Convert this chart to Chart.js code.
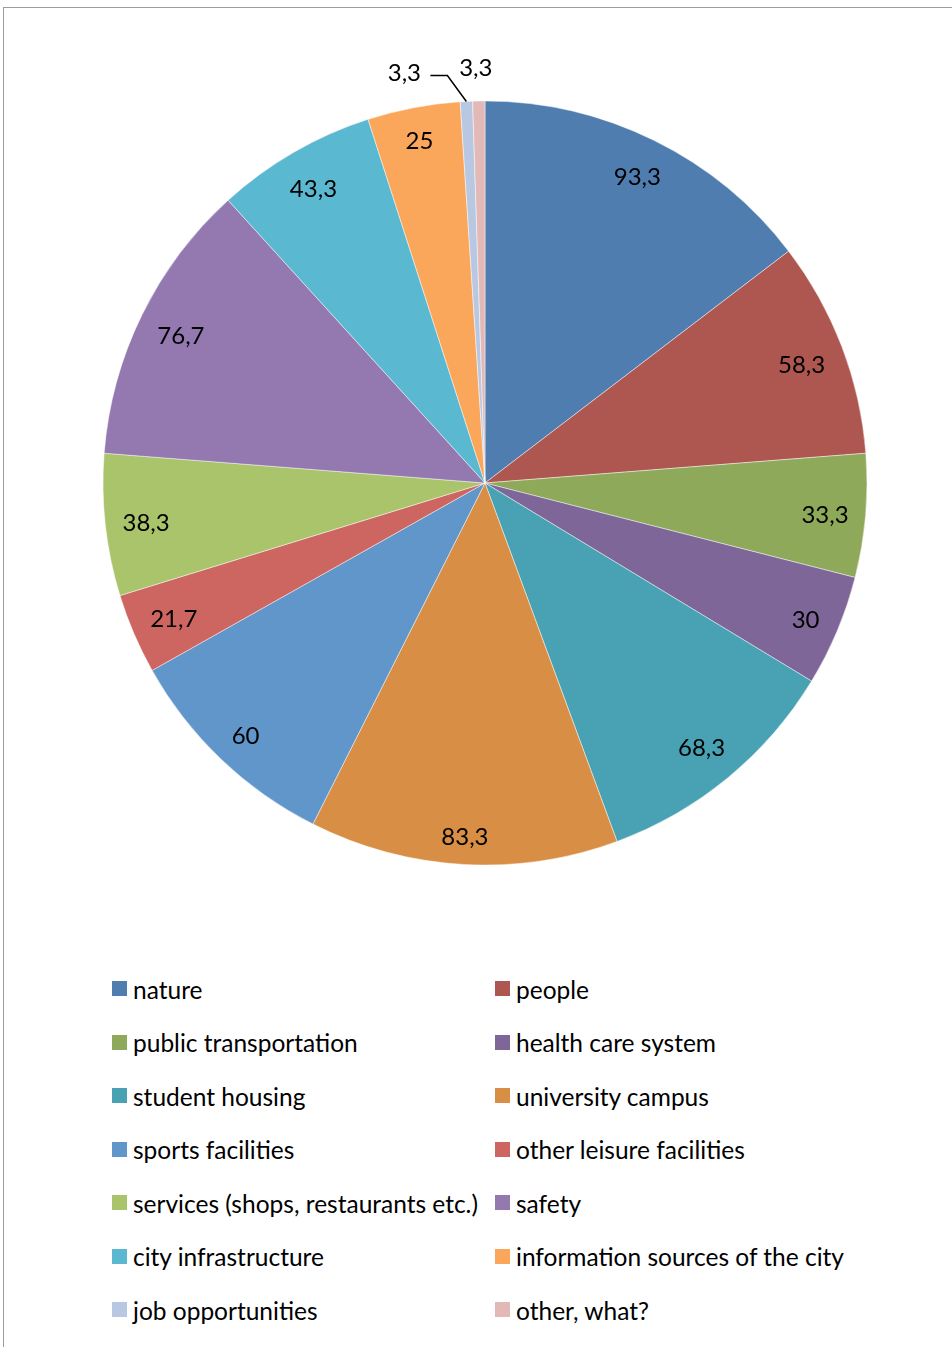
<!DOCTYPE html>
<html>
<head>
<meta charset="utf-8">
<script src="https://cdn.jsdelivr.net/npm/chart.js@4.4.1/dist/chart.umd.min.js"></script>
<style>
  html, body { margin: 0; padding: 0; background: #fff; }
  body { width: 952px; height: 1347px; position: relative; overflow: hidden; font-family: Lato, "DejaVu Sans", sans-serif; }
  .frame { position: absolute; left: 3px; top: 7px; width: 1000px; height: 1400px; border: 1px solid #9c9c9c; box-sizing: border-box; }
  .chart-box { position: absolute; left: 0; top: 0; width: 952px; height: 900px; }
  #legend { position: absolute; left: 112px; top: 974px; width: 800px; }
  .item { position: absolute; display: flex; align-items: center; height: 30px; font-size: 24.5px; color: #000; white-space: nowrap; }
  .item .sw { width: 15px; height: 15px; margin-right: 6px; margin-top: -1px; }
</style>
</head>
<body>
<div class="frame"></div>
<div class="chart-box"><canvas id="pieChart" width="952" height="900"></canvas></div>
<div id="legend"></div>
<script>
const categories = [
  'nature', 'people', 'public transportation', 'health care system',
  'student housing', 'university campus', 'sports facilities', 'other leisure facilities',
  'services (shops, restaurants etc.)', 'safety', 'city infrastructure',
  'information sources of the city', 'job opportunities', 'other, what?'
];
const values = [93.3, 58.3, 33.3, 30, 68.3, 83.3, 60, 21.7, 38.3, 76.7, 43.3, 25, 3.3, 3.3];
const sliceColors = [
  '#4f7db0', '#ae5650', '#8fa95a', '#7e6699', '#49a1b4', '#d98e46', '#6096ca',
  '#cd6661', '#aac46b', '#9379b0', '#5bb8d1', '#fba75b', '#b9c8e2', '#e3b9b7'
];

// value labels drawn with a comma decimal separator
const fmt = v => String(v).replace('.', ',');

// labels sit "inside end": the text box is pushed in from the rim by a fixed gap
const sliceLabels = {
  id: 'sliceLabels',
  afterDatasetsDraw(chart) {
    const ctx = chart.ctx;
    const arcs = chart.getDatasetMeta(0).data;
    const gap = 14, boxH = 29;
    ctx.save();
    ctx.font = '24px Lato, "DejaVu Sans", sans-serif';
    ctx.fillStyle = '#000';
    ctx.textAlign = 'center';
    ctx.textBaseline = 'alphabetic';
    const put = (t, cx, cy) => ctx.fillText(t, cx, cy + 10.5);
    arcs.forEach((arc, i) => {
      const { x, y, startAngle, endAngle, outerRadius } = arc.getProps(['x', 'y', 'startAngle', 'endAngle', 'outerRadius'], true);
      const mid = (startAngle + endAngle) / 2;
      const cos = Math.cos(mid), sin = Math.sin(mid);
      const text = fmt(values[i]);
      if (values[i] > 5) {
        const w = ctx.measureText(text).width + 4;
        const ext = (w / 2) * Math.abs(cos) + (boxH / 2) * Math.abs(sin);
        const r = outerRadius - gap - ext;
        put(text, x + cos * r, y + sin * r);
        return;
      }
      // thin slices: labels sit above the rim
      const ex = x + cos * outerRadius;
      const ey = y + sin * outerRadius;
      if (i === 12) {
        const bx = ex - 19, by = ey - 26;
        ctx.strokeStyle = '#000';
        ctx.lineWidth = 1.5;
        ctx.beginPath();
        ctx.moveTo(ex, ey);
        ctx.lineTo(bx, by);
        ctx.lineTo(bx - 17, by);
        ctx.stroke();
        put(text, bx - 43, by - 5);
      } else {
        put(text, ex - 3, ey - 36);
      }
    });
    ctx.restore();
  }
};

new Chart(document.getElementById('pieChart'), {
  type: 'pie',
  data: {
    labels: categories,
    datasets: [{
      data: values,
      backgroundColor: sliceColors,
      borderColor: 'rgba(255,255,255,0.45)',
      borderWidth: 1
    }]
  },
  options: {
    responsive: false,
    animation: false,
    radius: 382,
    layout: { padding: { left: 103, right: 85, top: 101, bottom: 35 } },
    plugins: { legend: { display: false }, tooltip: { enabled: false } }
  },
  plugins: [sliceLabels]
});

// two-column legend, filled row by row
const legend = document.getElementById('legend');
categories.forEach((name, i) => {
  const el = document.createElement('div');
  el.className = 'item';
  el.style.left = (i % 2 ? 383 : 0) + 'px';
  el.style.top = (Math.floor(i / 2) * 53.5) + 'px';
  el.innerHTML = `<span class="sw" style="background:${sliceColors[i]}"></span><span>${name}</span>`;
  legend.appendChild(el);
});
</script>
</body>
</html>
